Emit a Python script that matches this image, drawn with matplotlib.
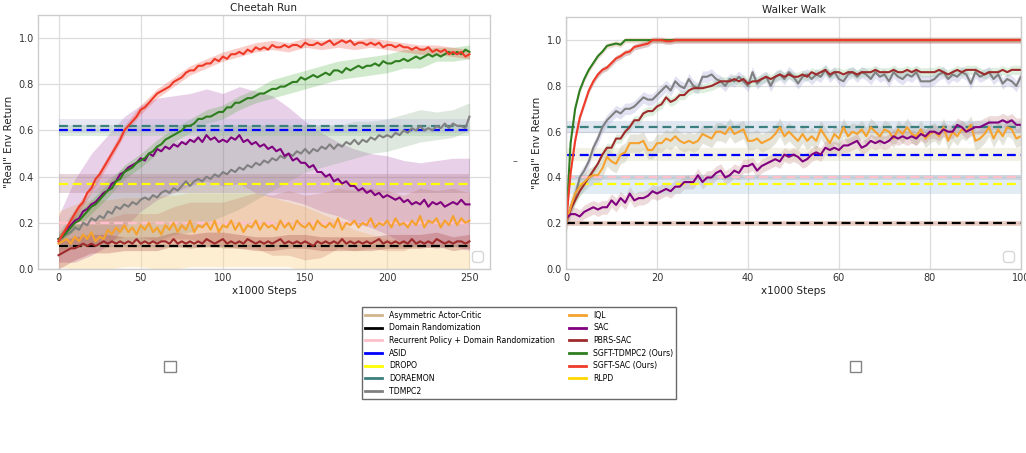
import numpy as np
import matplotlib
matplotlib.use('Agg')
import matplotlib.pyplot as plt
from matplotlib.lines import Line2D

# ---------------- legend entries ----------------
method_names = ['Asymmetric Actor-Critic', 'Domain Randomization',
                'Recurrent Policy + Domain Randomization', 'ASID', 'DROPO',
                'DORAEMON', 'TDMPC2', 'IQL', 'SAC', 'PBRS-SAC',
                'SGFT-TDMPC2 (Ours)', 'SGFT-SAC (Ours)', 'RLPD']
method_colors = ['tan', 'black', 'pink', 'blue', 'yellow', '#3b7f7f', 'gray',
                 '#f5a22f', 'purple', '#9e2b2b', '#2e7d1f', '#f03a28', 'gold']

# ---------------- Cheetah Run ----------------
cheetah_sgft_sac = [0.12, 0.15, 0.18, 0.21, 0.24, 0.27, 0.29, 0.33, 0.35, 0.39, 0.41, 0.44, 0.47, 0.50,
                    0.53, 0.56, 0.60, 0.62, 0.64, 0.66, 0.69, 0.70, 0.72, 0.74, 0.76, 0.77, 0.78, 0.79,
                    0.81, 0.82, 0.83, 0.85, 0.86, 0.86, 0.88, 0.88, 0.89, 0.89, 0.91, 0.90, 0.92, 0.91,
                    0.93, 0.93, 0.94, 0.93, 0.95, 0.94, 0.96, 0.95, 0.96, 0.95, 0.97, 0.96, 0.96, 0.97,
                    0.96, 0.97, 0.97, 0.96, 0.98, 0.97, 0.97, 0.98, 0.97, 0.98, 0.99, 0.97, 0.98, 0.99,
                    0.98, 0.99, 0.97, 0.98, 0.98, 0.97, 0.98, 0.97, 0.98, 0.96, 0.97, 0.97, 0.96, 0.97,
                    0.96, 0.96, 0.95, 0.96, 0.95, 0.95, 0.96, 0.94, 0.95, 0.94, 0.95, 0.93, 0.94, 0.93,
                    0.94, 0.92, 0.93]
cheetah_sgft_tdmpc2 = [0.13, 0.14, 0.16, 0.18, 0.20, 0.21, 0.23, 0.25, 0.27, 0.28, 0.30, 0.32, 0.34, 0.35,
                       0.38, 0.39, 0.42, 0.43, 0.44, 0.46, 0.47, 0.48, 0.50, 0.51, 0.53, 0.54, 0.56, 0.57,
                       0.58, 0.59, 0.60, 0.62, 0.62, 0.63, 0.65, 0.65, 0.66, 0.66, 0.67, 0.68, 0.68, 0.70,
                       0.70, 0.72, 0.72, 0.73, 0.74, 0.74, 0.75, 0.76, 0.76, 0.77, 0.78, 0.78, 0.79, 0.79,
                       0.80, 0.81, 0.81, 0.83, 0.82, 0.83, 0.84, 0.83, 0.84, 0.85, 0.84, 0.86, 0.86, 0.85,
                       0.87, 0.86, 0.87, 0.88, 0.87, 0.88, 0.88, 0.89, 0.88, 0.90, 0.89, 0.89, 0.90, 0.90,
                       0.91, 0.90, 0.91, 0.92, 0.91, 0.92, 0.93, 0.92, 0.93, 0.92, 0.93, 0.94, 0.93, 0.94,
                       0.93, 0.95, 0.94]
cheetah_sac = [0.13, 0.14, 0.17, 0.19, 0.21, 0.22, 0.25, 0.26, 0.28, 0.29, 0.31, 0.33, 0.34, 0.37,
               0.38, 0.41, 0.42, 0.44, 0.45, 0.46, 0.48, 0.47, 0.50, 0.49, 0.52, 0.51, 0.53, 0.52,
               0.54, 0.53, 0.55, 0.54, 0.56, 0.55, 0.57, 0.55, 0.58, 0.56, 0.57, 0.55, 0.56, 0.55,
               0.57, 0.56, 0.58, 0.55, 0.56, 0.54, 0.55, 0.53, 0.54, 0.52, 0.53, 0.51, 0.52, 0.49,
               0.50, 0.47, 0.48, 0.46, 0.46, 0.44, 0.45, 0.42, 0.42, 0.40, 0.41, 0.38, 0.39, 0.37,
               0.38, 0.36, 0.36, 0.34, 0.35, 0.33, 0.34, 0.32, 0.33, 0.31, 0.32, 0.31, 0.30, 0.31,
               0.29, 0.30, 0.28, 0.29, 0.28, 0.30, 0.27, 0.29, 0.28, 0.29, 0.27, 0.28, 0.29, 0.28,
               0.30, 0.28, 0.28]
cheetah_tdmpc2 = [0.12, 0.14, 0.15, 0.16, 0.18, 0.17, 0.20, 0.19, 0.22, 0.21, 0.23, 0.22, 0.25, 0.24,
                  0.27, 0.26, 0.28, 0.27, 0.29, 0.28, 0.30, 0.31, 0.30, 0.32, 0.31, 0.33, 0.34, 0.33,
                  0.35, 0.34, 0.36, 0.38, 0.36, 0.38, 0.39, 0.38, 0.40, 0.39, 0.41, 0.40, 0.42, 0.41,
                  0.43, 0.42, 0.44, 0.43, 0.45, 0.44, 0.46, 0.45, 0.47, 0.46, 0.48, 0.47, 0.49, 0.48,
                  0.50, 0.49, 0.51, 0.50, 0.52, 0.50, 0.52, 0.51, 0.53, 0.52, 0.54, 0.52, 0.54, 0.53,
                  0.55, 0.54, 0.56, 0.54, 0.56, 0.55, 0.57, 0.56, 0.58, 0.57, 0.58, 0.57, 0.59, 0.58,
                  0.60, 0.59, 0.61, 0.60, 0.62, 0.60, 0.61, 0.60, 0.62, 0.61, 0.63, 0.61, 0.63, 0.62,
                  0.62, 0.61, 0.66]
cheetah_iql = [0.11, 0.12, 0.13, 0.11, 0.14, 0.12, 0.15, 0.13, 0.16, 0.12, 0.14, 0.13, 0.17, 0.15,
               0.18, 0.16, 0.19, 0.16, 0.18, 0.15, 0.19, 0.17, 0.20, 0.16, 0.18, 0.15, 0.19, 0.17,
               0.20, 0.16, 0.19, 0.17, 0.21, 0.16, 0.19, 0.18, 0.20, 0.17, 0.21, 0.16, 0.19, 0.18,
               0.21, 0.17, 0.20, 0.16, 0.19, 0.18, 0.21, 0.17, 0.20, 0.18, 0.19, 0.17, 0.21, 0.18,
               0.20, 0.17, 0.21, 0.19, 0.18, 0.20, 0.17, 0.21, 0.19, 0.18, 0.20, 0.18, 0.22, 0.17,
               0.20, 0.19, 0.21, 0.18, 0.20, 0.19, 0.22, 0.18, 0.20, 0.19, 0.21, 0.18, 0.22, 0.19,
               0.20, 0.18, 0.21, 0.19, 0.23, 0.18, 0.21, 0.20, 0.22, 0.18, 0.21, 0.19, 0.23, 0.19,
               0.22, 0.20, 0.21]
cheetah_pbrs = [0.06, 0.07, 0.08, 0.09, 0.09, 0.10, 0.11, 0.10, 0.11, 0.10, 0.11, 0.12, 0.11, 0.12,
                0.11, 0.12, 0.11, 0.12, 0.11, 0.13, 0.11, 0.12, 0.11, 0.12, 0.11, 0.12, 0.12, 0.11,
                0.13, 0.11, 0.12, 0.11, 0.12, 0.11, 0.12, 0.11, 0.13, 0.12, 0.11, 0.12, 0.13, 0.11,
                0.12, 0.11, 0.12, 0.11, 0.13, 0.12, 0.11, 0.12, 0.11, 0.12, 0.11, 0.12, 0.13, 0.11,
                0.12, 0.11, 0.12, 0.11, 0.12, 0.11, 0.10, 0.12, 0.11, 0.12, 0.11, 0.12, 0.11, 0.13,
                0.11, 0.12, 0.11, 0.12, 0.11, 0.12, 0.11, 0.12, 0.13, 0.11, 0.12, 0.11, 0.12, 0.11,
                0.12, 0.11, 0.13, 0.11, 0.12, 0.11, 0.12, 0.11, 0.13, 0.12, 0.11, 0.12, 0.11, 0.12,
                0.12, 0.11, 0.12]

# spread of the runs, every 10k steps
cheetah_sgft_sac_sd = [0.02, 0.02, 0.02, 0.02, 0.02, 0.02, 0.02, 0.02, 0.02, 0.02, 0.02, 0.02, 0.02,
                       0.02, 0.02, 0.02, 0.02, 0.02, 0.02, 0.02, 0.02, 0.02, 0.02, 0.02, 0.02, 0.02]
cheetah_sgft_tdmpc2_sd = [0.02, 0.03, 0.03, 0.03, 0.03, 0.03, 0.03, 0.03, 0.03, 0.03, 0.03, 0.03, 0.03,
                          0.04, 0.04, 0.04, 0.04, 0.04, 0.04, 0.04, 0.04, 0.04, 0.04, 0.03, 0.03, 0.03]
cheetah_sac_sd = [0.10, 0.18, 0.22, 0.24, 0.24, 0.23, 0.22, 0.21, 0.20, 0.20, 0.20, 0.21, 0.22,
                  0.22, 0.20, 0.18, 0.17, 0.16, 0.16, 0.16, 0.17, 0.18, 0.18, 0.19, 0.19, 0.20]
cheetah_tdmpc2_sd = [0.04, 0.08, 0.11, 0.14, 0.16, 0.18, 0.19, 0.20, 0.20, 0.20, 0.19, 0.18, 0.16,
                     0.14, 0.12, 0.10, 0.09, 0.08, 0.08, 0.07, 0.07, 0.07, 0.07, 0.06, 0.06, 0.06]
cheetah_iql_sd = [0.04, 0.05, 0.05, 0.05, 0.05, 0.05, 0.06, 0.07, 0.08, 0.09, 0.10, 0.11, 0.12,
                  0.13, 0.14, 0.14, 0.14, 0.13, 0.13, 0.13, 0.13, 0.12, 0.12, 0.12, 0.12, 0.12]
cheetah_pbrs_sd = [0.06, 0.05, 0.04, 0.04, 0.03, 0.03, 0.03, 0.03, 0.03, 0.03, 0.03, 0.03, 0.03,
                   0.03, 0.03, 0.03, 0.03, 0.03, 0.03, 0.03, 0.03, 0.03, 0.03, 0.03, 0.03, 0.03]
cheetah_rlpd = [0.13, 0.14, 0.15, 0.15, 0.16, 0.16, 0.16, 0.16, 0.17, 0.17, 0.17, 0.17, 0.17,
                0.16, 0.15, 0.13, 0.12, 0.10, 0.08, 0.07, 0.06, 0.06, 0.05, 0.05, 0.05, 0.05]
cheetah_rlpd_sd = [0.12, 0.14, 0.15, 0.15, 0.15, 0.15, 0.16, 0.16, 0.16, 0.16, 0.16, 0.16, 0.16,
                   0.15, 0.14, 0.14, 0.12, 0.11, 0.09, 0.08, 0.07, 0.06, 0.06, 0.06, 0.06, 0.06]

# baselines with a single final score: (name, value, spread, band colour)
cheetah_baselines = [('Asymmetric Actor-Critic', 0.10, 0.01, 'tan'),
                     ('Recurrent Policy + Domain Randomization', 0.20, 0.01, 'pink'),
                     ('DROPO', 0.37, 0.04, '#b07a8a'),
                     ('ASID', 0.60, 0.025, '#8fc58f'),
                     ('DORAEMON', 0.62, 0.03, '#b0b0dd'),
                     ('Domain Randomization', 0.10, 0.005, 'gray')]

# ---------------- Walker Walk ----------------
walker_sgft_tdmpc2 = [0.20, 0.55, 0.70, 0.78, 0.83, 0.87, 0.90, 0.93, 0.95, 0.975, 0.98, 0.985, 0.98] + [1.0] * 88
walker_sgft_sac = [0.20, 0.42, 0.56, 0.66, 0.72, 0.78, 0.82, 0.85, 0.87, 0.88, 0.90, 0.92, 0.93, 0.945,
                   0.95, 0.97, 0.975, 0.98, 0.985, 1.0, 1.0, 1.0, 0.995, 0.995] + [1.0] * 77
walker_tdmpc2 = [0.20, 0.27, 0.32, 0.40, 0.43, 0.47, 0.53, 0.57, 0.62, 0.65, 0.67, 0.69, 0.68, 0.70,
                 0.70, 0.71, 0.73, 0.75, 0.74, 0.74, 0.76, 0.78, 0.80, 0.78, 0.82, 0.80, 0.79, 0.83,
                 0.80, 0.79, 0.84, 0.84, 0.85, 0.83, 0.82, 0.80, 0.83, 0.82, 0.84, 0.82, 0.80, 0.86,
                 0.81, 0.83, 0.84, 0.80, 0.84, 0.85, 0.83, 0.86, 0.84, 0.81, 0.84, 0.85, 0.83, 0.85,
                 0.84, 0.87, 0.84, 0.86, 0.83, 0.82, 0.85, 0.86, 0.84, 0.86, 0.85, 0.83, 0.86, 0.84,
                 0.85, 0.82, 0.86, 0.84, 0.83, 0.85, 0.84, 0.86, 0.82, 0.82, 0.82, 0.83, 0.85, 0.86,
                 0.83, 0.85, 0.84, 0.86, 0.85, 0.81, 0.86, 0.84, 0.85, 0.86, 0.83, 0.85, 0.81, 0.83,
                 0.82, 0.80, 0.84]
walker_pbrs = [0.20, 0.26, 0.30, 0.34, 0.37, 0.40, 0.43, 0.46, 0.50, 0.53, 0.53, 0.57, 0.57, 0.60,
               0.62, 0.65, 0.65, 0.68, 0.69, 0.69, 0.71, 0.72, 0.75, 0.73, 0.74, 0.76, 0.76, 0.78,
               0.79, 0.79, 0.79, 0.795, 0.80, 0.81, 0.82, 0.82, 0.82, 0.83, 0.82, 0.83, 0.81, 0.82,
               0.82, 0.83, 0.84, 0.83, 0.84, 0.85, 0.84, 0.85, 0.84, 0.84, 0.85, 0.84, 0.86, 0.85,
               0.86, 0.87, 0.85, 0.86, 0.86, 0.85, 0.86, 0.86, 0.85, 0.86, 0.86, 0.86, 0.87, 0.86,
               0.86, 0.86, 0.87, 0.86, 0.86, 0.87, 0.86, 0.87, 0.86, 0.86, 0.86, 0.86, 0.87, 0.86,
               0.85, 0.86, 0.87, 0.86, 0.87, 0.87, 0.87, 0.86, 0.85, 0.86, 0.86, 0.86, 0.87, 0.86,
               0.87, 0.87, 0.87]
walker_iql = [0.20, 0.27, 0.33, 0.36, 0.38, 0.40, 0.41, 0.41, 0.44, 0.49, 0.47, 0.46, 0.50, 0.51,
              0.55, 0.55, 0.55, 0.56, 0.52, 0.52, 0.55, 0.55, 0.57, 0.56, 0.58, 0.56, 0.55, 0.56,
              0.55, 0.56, 0.59, 0.58, 0.57, 0.60, 0.60, 0.59, 0.62, 0.59, 0.60, 0.61, 0.56, 0.56,
              0.57, 0.55, 0.56, 0.57, 0.59, 0.62, 0.58, 0.60, 0.58, 0.56, 0.59, 0.56, 0.58, 0.56,
              0.61, 0.58, 0.55, 0.59, 0.57, 0.62, 0.58, 0.60, 0.59, 0.61, 0.58, 0.62, 0.60, 0.58,
              0.61, 0.60, 0.57, 0.61, 0.59, 0.62, 0.59, 0.58, 0.61, 0.57, 0.59, 0.60, 0.58, 0.62,
              0.56, 0.60, 0.58, 0.61, 0.60, 0.63, 0.56, 0.57, 0.59, 0.62, 0.57, 0.61, 0.58, 0.62,
              0.61, 0.57, 0.58]
walker_sac = [0.22, 0.24, 0.24, 0.23, 0.25, 0.26, 0.27, 0.26, 0.27, 0.27, 0.30, 0.28, 0.31, 0.29,
              0.33, 0.30, 0.31, 0.31, 0.32, 0.34, 0.33, 0.34, 0.35, 0.34, 0.36, 0.36, 0.38, 0.38,
              0.38, 0.41, 0.38, 0.40, 0.40, 0.42, 0.43, 0.40, 0.41, 0.43, 0.42, 0.45, 0.45, 0.46,
              0.43, 0.45, 0.46, 0.47, 0.48, 0.47, 0.50, 0.49, 0.50, 0.49, 0.47, 0.48, 0.50, 0.51,
              0.50, 0.53, 0.52, 0.53, 0.52, 0.54, 0.54, 0.55, 0.56, 0.53, 0.54, 0.56, 0.55, 0.56,
              0.55, 0.56, 0.58, 0.57, 0.58, 0.57, 0.58, 0.57, 0.59, 0.58, 0.60, 0.60, 0.59, 0.61,
              0.60, 0.60, 0.63, 0.62, 0.60, 0.61, 0.62, 0.62, 0.63, 0.64, 0.64, 0.64, 0.65, 0.64,
              0.65, 0.63, 0.63]

walker_baselines = [('Asymmetric Actor-Critic', 0.20, 0.01, 'tan'),
                    ('Recurrent Policy + Domain Randomization', 0.40, 0.012, '#a0a0a0'),
                    ('DROPO', 0.37, 0.04, '#9ec3dd'),
                    ('ASID', 0.50, 0.03, '#d8d3a8'),
                    ('DORAEMON', 0.62, 0.025, '#9ab0d0'),
                    ('Domain Randomization', 0.20, 0.01, '#e8a0a8')]

col = dict(zip(method_names, method_colors))

plt.rcParams['font.family'] = 'DejaVu Sans'
plt.rcParams['axes.edgecolor'] = '#cccccc'
plt.rcParams['axes.linewidth'] = 1.0
plt.rcParams['xtick.color'] = '#333333'
plt.rcParams['ytick.color'] = '#333333'
plt.rcParams['xtick.major.size'] = 0
plt.rcParams['ytick.major.size'] = 0
plt.rcParams['xtick.labelsize'] = 7
plt.rcParams['ytick.labelsize'] = 7


def style_axes(ax, title):
    ax.set_title(title, fontsize=7.5, color='#222222', pad=3)
    ax.set_xlabel('x1000 Steps', fontsize=7.5, color='#222222', labelpad=2)
    ax.set_ylabel('"Real" Env Return', fontsize=7.5, color='#222222', labelpad=3)
    ax.grid(True, color='#dddddd', linewidth=0.9)
    ax.set_axisbelow(True)
    ax.set_ylim(0, 1.1)
    ax.set_yticks([0.0, 0.2, 0.4, 0.6, 0.8, 1.0])
    ax.tick_params(pad=3)
    ax.legend(handles=[], loc='lower right', frameon=True, edgecolor='#cccccc')


def band(ax, x, mean, sd, color, alpha):
    mean = np.array(mean)
    sd = np.array(sd)
    ax.fill_between(x, mean - sd, mean + sd, color=color, alpha=alpha, linewidth=0)


def baselines(ax, items, x0, x1):
    for name, val, sd, bcol in items:
        ax.fill_between([x0, x1], [val - sd] * 2, [val + sd] * 2, color=bcol, alpha=0.3, linewidth=0)
    for name, val, sd, bcol in items:
        ax.plot([x0, x1], [val, val], '--', color=col[name], linewidth=1.6, dashes=(4, 2.2))


fig = plt.figure(figsize=(10.26, 4.53), dpi=100)
ax1 = fig.add_axes([0.037, 0.406, 0.4406, 0.561])
ax2 = fig.add_axes([0.5517, 0.406, 0.4433, 0.556])

# --- Cheetah Run ---
xc = np.linspace(0, 250, len(cheetah_sgft_sac))
xs = np.linspace(0, 250, len(cheetah_sac_sd))
band(ax1, xs, cheetah_rlpd, cheetah_rlpd_sd, '#fbd99a', 0.45)
band(ax1, xs, cheetah_sac[::4], cheetah_sac_sd, 'purple', 0.18)
band(ax1, xs, cheetah_tdmpc2[::4], cheetah_tdmpc2_sd, '#7fa57f', 0.25)
band(ax1, xs, cheetah_iql[::4], cheetah_iql_sd, '#c8735a', 0.25)
band(ax1, xs, cheetah_pbrs[::4], cheetah_pbrs_sd, '#9e2b2b', 0.25)
band(ax1, xs, cheetah_sgft_tdmpc2[::4], cheetah_sgft_tdmpc2_sd, '#2e9d1f', 0.22)
band(ax1, xs, cheetah_sgft_sac[::4], cheetah_sgft_sac_sd, '#f03a28', 0.25)
baselines(ax1, cheetah_baselines, 0, 250)
ax1.plot(xc, cheetah_tdmpc2, color=col['TDMPC2'], linewidth=1.5)
ax1.plot(xc, cheetah_iql, color=col['IQL'], linewidth=1.5)
ax1.plot(xc, cheetah_sac, color=col['SAC'], linewidth=1.5)
ax1.plot(xc, cheetah_pbrs, color=col['PBRS-SAC'], linewidth=1.5)
ax1.plot(xc, cheetah_sgft_tdmpc2, color=col['SGFT-TDMPC2 (Ours)'], linewidth=1.5)
ax1.plot(xc, cheetah_sgft_sac, color=col['SGFT-SAC (Ours)'], linewidth=1.5)
ax1.set_xlim(-12.5, 262.5)
ax1.set_xticks([0, 50, 100, 150, 200, 250])
style_axes(ax1, 'Cheetah Run')

# --- Walker Walk ---
xw = np.linspace(0, 100, len(walker_sac))
band(ax2, xw, walker_tdmpc2, 0.025, '#8c8cd0', 0.25)
band(ax2, xw, walker_pbrs, 0.02, '#60b060', 0.2)
band(ax2, xw, walker_iql, 0.04, '#a8a88a', 0.3)
band(ax2, xw, walker_sac, 0.03, '#b05a5a', 0.22)
band(ax2, xw, walker_sgft_tdmpc2, 0.012, '#d8b090', 0.4)
band(ax2, xw, walker_sgft_sac, 0.013, '#9e5a5a', 0.35)
baselines(ax2, walker_baselines, 0, 100)
ax2.plot(xw, walker_tdmpc2, color=col['TDMPC2'], linewidth=1.5)
ax2.plot(xw, walker_pbrs, color=col['PBRS-SAC'], linewidth=1.5)
ax2.plot(xw, walker_iql, color=col['IQL'], linewidth=1.5)
ax2.plot(xw, walker_sac, color=col['SAC'], linewidth=1.5)
ax2.plot(xw, walker_sgft_tdmpc2, color=col['SGFT-TDMPC2 (Ours)'], linewidth=1.5)
ax2.plot(xw, walker_sgft_sac, color=col['SGFT-SAC (Ours)'], linewidth=1.5)
ax2.set_xlim(0, 100)
ax2.set_xticks([0, 20, 40, 60, 80, 100])
style_axes(ax2, 'Walker Walk')

# shared legend
handles = [Line2D([0], [0], color=c, linewidth=2) for c in method_colors]
fig.legend(handles, method_names, loc='upper center', bbox_to_anchor=(0.506, 0.33), ncol=2,
           fontsize=5.6, frameon=True, fancybox=False, edgecolor='#444444',
           handlelength=2.2, handletextpad=0.9, columnspacing=1.8, borderpad=0.4, labelspacing=0.48)
fig.legend(handles=[], loc='center', bbox_to_anchor=(0.1657, 0.19), edgecolor='#666666', fancybox=False)
fig.legend(handles=[], loc='center', bbox_to_anchor=(0.834, 0.19), edgecolor='#666666', fancybox=False)
fig.text(0.5015, 0.645, '\u2013', fontsize=7, color='#555555', rotation=0, ha='center', va='center')

fig.savefig('out.png', dpi=100)
